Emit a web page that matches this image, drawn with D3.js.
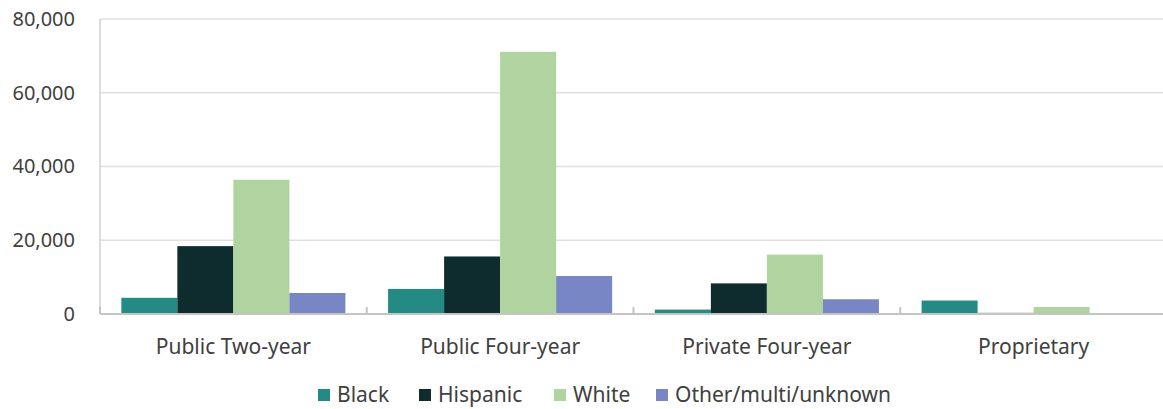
<!DOCTYPE html>
<html>
<head>
<meta charset="utf-8">
<script src="https://cdn.jsdelivr.net/npm/d3@7"></script>
<style>
  html, body { margin: 0; padding: 0; background: #fff; }
  svg { display: block; font-family: "Noto Sans", "Open Sans", sans-serif; }
</style>
</head>
<body>
<svg id="chart" width="1163" height="409"></svg>
<script>
// Enrollment by sector and race/ethnicity
const categories = ["Public Two-year", "Public Four-year", "Private Four-year", "Proprietary"];
const seriesNames = ["Black", "Hispanic", "White", "Other/multi/unknown"];
const black    = [4400, 6800, 1200, 3650];
const hispanic = [18400, 15600, 8300, 300];
const white    = [36400, 71100, 16100, 1900];
const other    = [5700, 10300, 4000, 200];
const yTicks   = [0, 20000, 40000, 60000, 80000];
const colors   = ["#238b83", "#0e2b2e", "#b0d49f", "#7986c5"];

const seriesValues = [black, hispanic, white, other];

const svg = d3.select("#chart");
const margin = { left: 100, right: -4, top: 19, bottom: 95 };
const W = 1163, H = 409;

const x0 = d3.scaleBand()
  .domain(categories)
  .range([margin.left, W - margin.right])
  .padding(0);

const x1 = d3.scaleBand()
  .domain(seriesNames)
  .range([x0.bandwidth() * 0.08, x0.bandwidth() * 0.92])
  .padding(0);

const y = d3.scaleLinear()
  .domain([0, 80000])
  .range([H - margin.bottom, margin.top]);

// horizontal gridlines
svg.append("g")
  .selectAll("line")
  .data(yTicks.filter(d => d > 0))
  .join("line")
  .attr("x1", margin.left)
  .attr("x2", W - margin.right)
  .attr("y1", d => y(d))
  .attr("y2", d => y(d))
  .attr("stroke", "#e0e0e0")
  .attr("stroke-width", 1.5);

// y axis line
svg.append("line")
  .attr("x1", margin.left).attr("x2", margin.left)
  .attr("y1", y(80000)).attr("y2", y(0))
  .attr("stroke", "#d0d0d0").attr("stroke-width", 1.5);

// y tick labels
const yAxis = d3.axisLeft(y)
  .tickValues(yTicks)
  .tickFormat(d3.format(","))
  .tickSize(0)
  .tickPadding(25);
const gy = svg.append("g")
  .attr("transform", `translate(${margin.left},0)`)
  .call(yAxis);
gy.select(".domain").remove();
gy.selectAll("text")
  .attr("fill", "#404040")
  .style("font-size", "20px")
  .style("font-family", "'Noto Sans', sans-serif");

// bars
const groups = svg.append("g")
  .selectAll("g")
  .data(categories)
  .join("g")
  .attr("transform", d => `translate(${x0(d)},0)`);

groups.selectAll("rect")
  .data((cat, i) => seriesNames.map((s, j) => ({ s, v: seriesValues[j][i], c: colors[j] })))
  .join("rect")
  .attr("x", d => x1(d.s))
  .attr("width", x1.bandwidth())
  .attr("y", d => y(d.v))
  .attr("height", d => y(0) - y(d.v))
  .attr("fill", d => d.c);

// baseline and category separators
svg.append("line")
  .attr("x1", margin.left).attr("x2", W - margin.right)
  .attr("y1", y(0)).attr("y2", y(0))
  .attr("stroke", "#c4c4c4").attr("stroke-width", 2);

const sepX = categories.map(c => x0(c)).concat([x0(categories[3]) + x0.bandwidth()]);
svg.append("g")
  .selectAll("line")
  .data(sepX)
  .join("line")
  .attr("x1", d => d).attr("x2", d => d)
  .attr("y1", y(0) - 7).attr("y2", y(0))
  .attr("stroke", "#c4c4c4").attr("stroke-width", 2);

// category labels
const xAxis = d3.axisBottom(x0).tickSize(0).tickPadding(25);
const gx = svg.append("g")
  .attr("transform", `translate(0,${y(0)})`)
  .call(xAxis);
gx.select(".domain").remove();
gx.selectAll("text")
  .attr("fill", "#404040")
  .style("font-size", "21px")
  .style("font-family", "'Noto Sans', sans-serif");

// legend
const legendX = [318, 419, 554, 656];
const legend = svg.append("g")
  .selectAll("g")
  .data(seriesNames)
  .join("g")
  .attr("transform", (d, i) => `translate(${legendX[i]},395)`);
legend.append("rect")
  .attr("x", 0).attr("y", -6)
  .attr("width", 12).attr("height", 12)
  .attr("fill", (d, i) => colors[i]);
legend.append("text")
  .attr("x", 19)
  .attr("dy", "0.35em")
  .attr("fill", "#404040")
  .style("font-size", "21px")
  .text(d => d);
</script>
</body>
</html>
